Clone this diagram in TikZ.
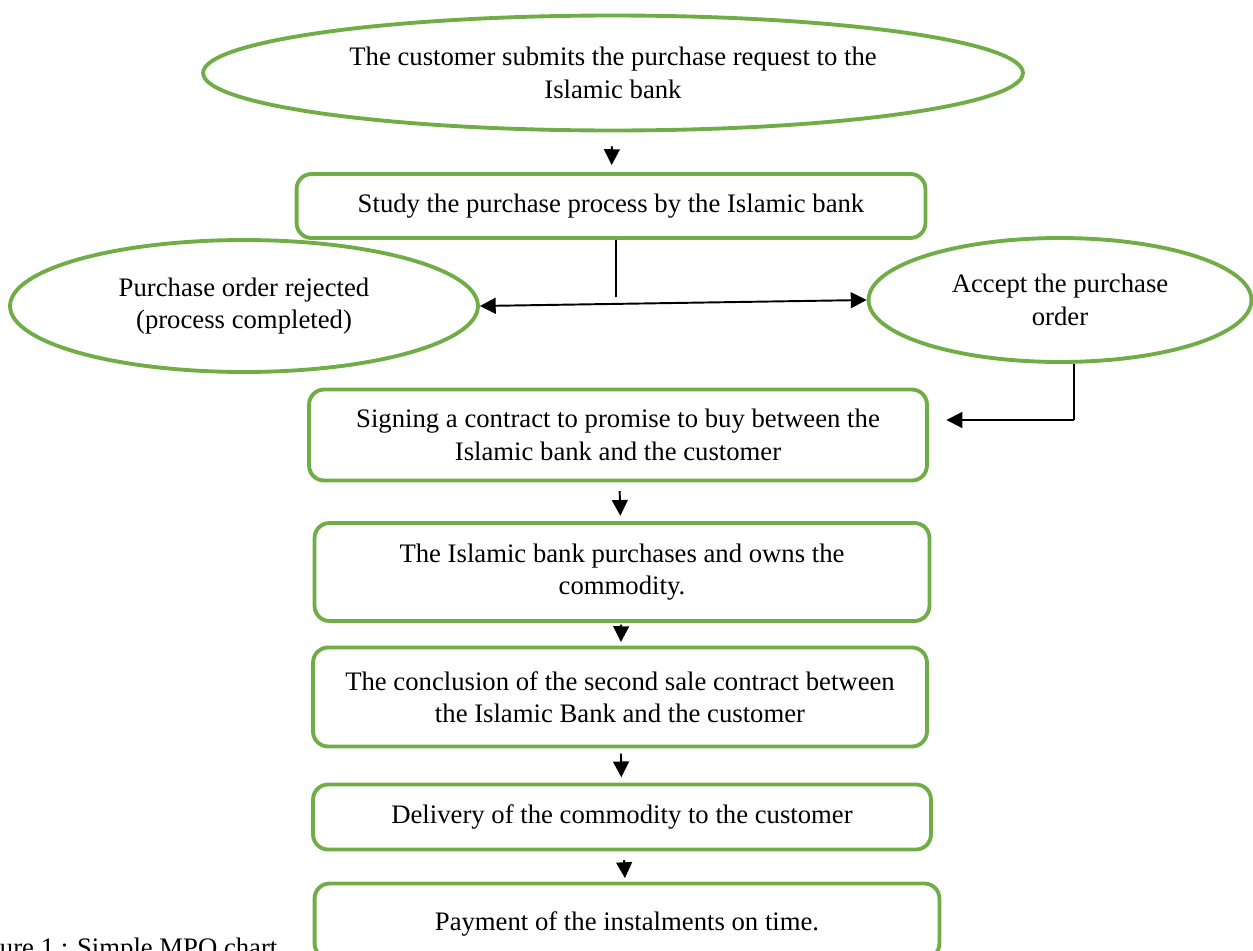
\documentclass[tikz,border=0pt]{standalone}
\usepackage{fontspec}
\setmainfont{Liberation Serif}
\usepackage{xcolor}
\usepackage{tikz}
\usetikzlibrary{shapes.geometric, arrows.meta, positioning, calc}
\definecolor{mpogreen}{HTML}{70AD47}
\tikzset{
  stepbox/.style={
    rectangle, draw=mpogreen, line width=2.2pt, rounded corners=0.3cm, fill=white,
    align=center, inner sep=0pt, font=\fontsize{15.2}{18.5}\selectfont
  },
  stepoval/.style={
    ellipse, draw=mpogreen, line width=2.2pt, fill=white,
    align=center, inner sep=0pt, font=\fontsize{15.2}{18.5}\selectfont
  },
  flowarrow/.style={
    line width=1.1pt, -{Triangle[length=9pt,width=9pt]}
  },
  botharrow/.style={
    line width=1.1pt, {Triangle[length=9pt,width=9pt]}-{Triangle[length=9pt,width=9pt]}
  },
  plainline/.style={
    line width=1.1pt
  }
}
\begin{document}
\begin{tikzpicture}[x=0.02cm, y=-0.02cm]
  \clip (0,0) rectangle (1253,950);
  \node[stepoval, minimum width=16.4cm, minimum height=2.3cm] (request) at (613,73) {The customer submits the purchase request to the\\ Islamic bank};
  \node[stepbox, minimum width=12.58cm, minimum height=1.28cm] (study) at (611,206) {Study the purchase process by the Islamic bank};
  \node[stepoval, minimum width=9.36cm, minimum height=2.64cm] (rejected) at (244,306) {Purchase order rejected\\ (process completed)};
  \node[stepoval, minimum width=7.66cm, minimum height=2.48cm] (accept) at (1060,300) {Accept the purchase\\ order};
  \node[stepbox, minimum width=12.36cm, minimum height=1.82cm] (contract) at (618,435) {Signing a contract to promise to buy between the\\ Islamic bank and the customer};
  \node[stepbox, minimum width=12.3cm, minimum height=1.96cm] (owns) at (622,572) {The Islamic bank purchases and owns the\\ commodity.};
  \node[stepbox, minimum width=12.28cm, minimum height=1.98cm] (second) at (620,697) {The conclusion of the second sale contract between\\ the Islamic Bank and the customer};
  \node[stepbox, minimum width=12.36cm, minimum height=1.3cm] (delivery) at (622,817) {Delivery of the commodity to the customer};
  \node[stepbox, minimum width=12.5cm, minimum height=1.5cm, text depth=0pt] (payment) at (627,921) {Payment of the instalments on time.};
  \node[anchor=base west, inner sep=0pt, font=\fontsize{15.2}{18.5}\selectfont] (caption) at (-36,956) {Figure 1 : Simple MPO chart};

  \coordinate (split) at (616,297);
  \coordinate (turn) at (1074,420);

  \draw[flowarrow, shorten <=8pt, shorten >=4pt] (request) -- (study);
  \draw[plainline] (split |- study.south) -- (split);
  \draw[botharrow] (rejected.east) -- (accept.west);
  \draw[plainline] (turn |- accept.south) -- (turn);
  \draw[flowarrow, shorten >=10pt] (turn) -- (contract.east |- turn);
  \draw[flowarrow, shorten <=5pt, shorten >=3pt] (contract) -- (owns);
  \draw[flowarrow, shorten <=1pt, shorten >=2pt] (owns) -- (second);
  \draw[flowarrow, shorten <=3pt, shorten >=3pt] (second) -- (delivery);
  \draw[flowarrow, shorten <=5pt, shorten >=2pt] (delivery) -- (payment);
\end{tikzpicture}
\end{document}
